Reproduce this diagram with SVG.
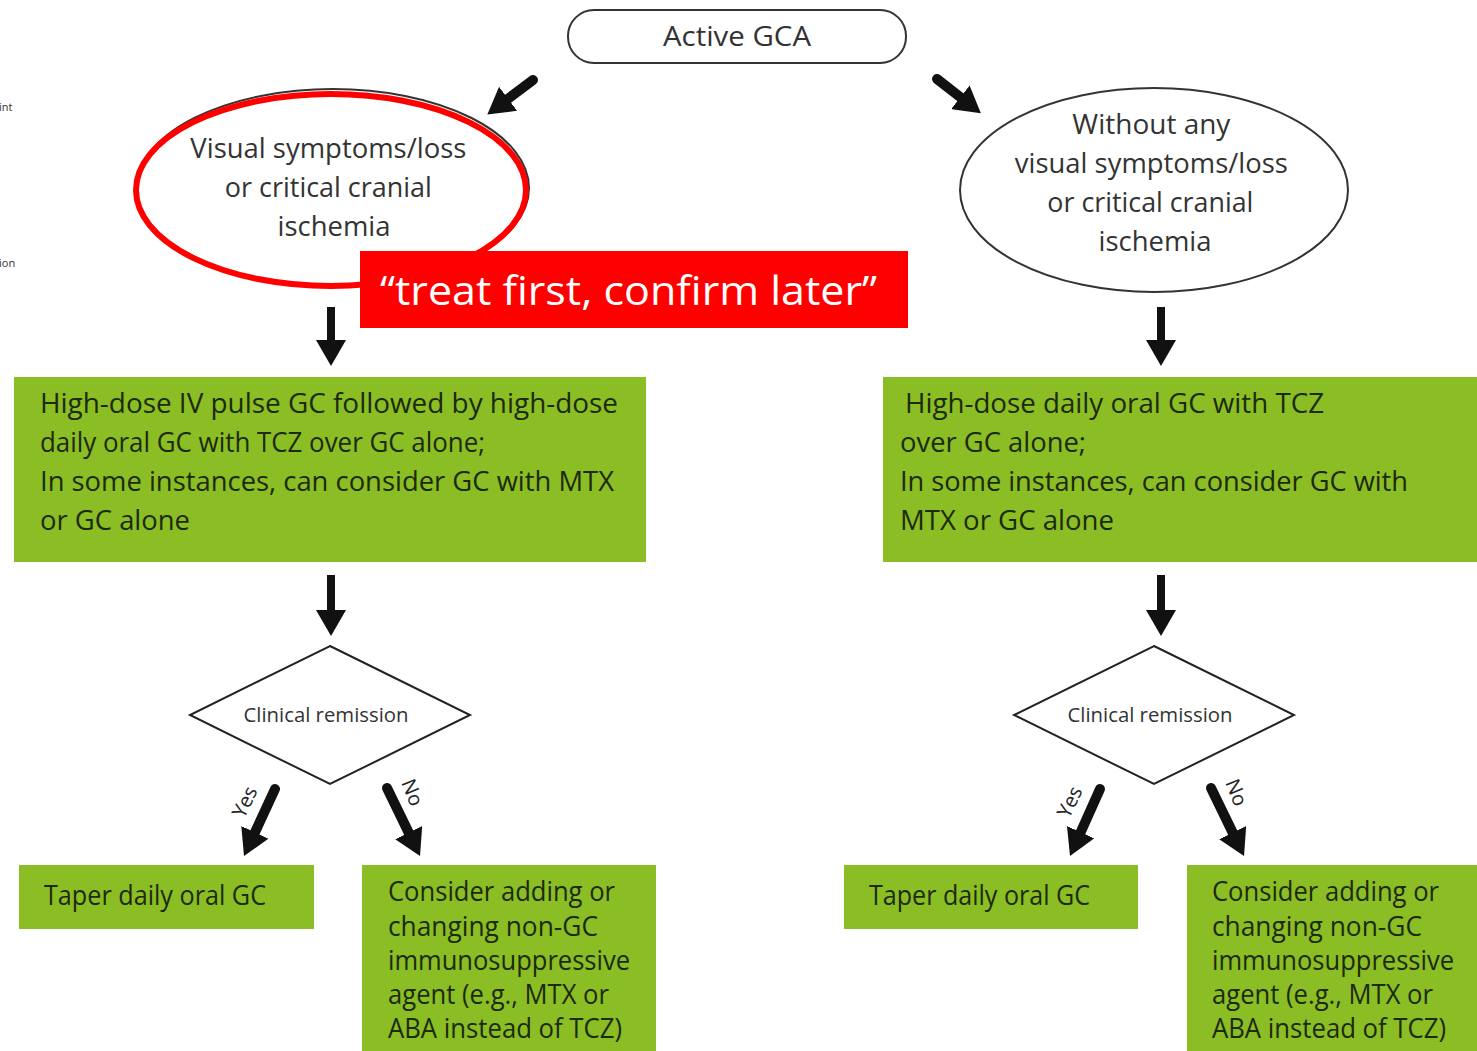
<svg xmlns="http://www.w3.org/2000/svg" width="1477" height="1051" viewBox="0 0 1477 1051">
<defs>
<style>
.t{font-family:"Open Sans","Liberation Sans",sans-serif;fill:#333;}
.g{font-family:"Open Sans","Liberation Sans",sans-serif;fill:#1c2a0e;font-size:27px;}
.box{fill:#8bbd24;}
.arr{stroke:#111;stroke-width:8;fill:none;marker-end:url(#ah);}
.arrd{stroke:#111;stroke-width:10;fill:none;marker-end:url(#ah);stroke-linecap:round;}
.lbl{font-family:"Open Sans","Liberation Sans",sans-serif;fill:#222;font-size:20px;}
</style>
<marker id="ah" markerUnits="userSpaceOnUse" markerWidth="26" markerHeight="30" viewBox="0 0 26 30" refX="6" refY="15" orient="auto">
<path d="M0,0 L26,15 L0,30 z" fill="#111"/>
</marker>
</defs>
<rect width="1477" height="1051" fill="#fff"/>
<text class="t" x="-1" y="111" font-size="11" fill="#666">int</text>
<text class="t" x="-1" y="267" font-size="11" fill="#666">ion</text>

<g id="connectors">
<line class="arrd" x1="533" y1="80" x2="503.3" y2="102.4"/>
<line class="arrd" x1="937" y1="79" x2="965.1" y2="100.9"/>
<line class="arr" x1="331" y1="307" x2="331" y2="346"/>
<line class="arr" x1="1161" y1="307" x2="1161" y2="346"/>
<line class="arr" x1="331" y1="575" x2="331" y2="616"/>
<line class="arr" x1="1161" y1="575" x2="1161" y2="616"/>
<line class="arrd" x1="275" y1="789" x2="252.4" y2="837.8"/>
<line class="arrd" x1="387" y1="788" x2="411.3" y2="838"/>
<line class="arrd" x1="1100" y1="789" x2="1078.2" y2="837.7"/>
<line class="arrd" x1="1211" y1="788" x2="1235.3" y2="838"/>
<text class="lbl" transform="translate(251,805) rotate(-64)" text-anchor="middle">Yes</text>
<text class="lbl" transform="translate(406,795) rotate(68)" text-anchor="middle">No</text>
<text class="lbl" transform="translate(1076,805) rotate(-64)" text-anchor="middle">Yes</text>
<text class="lbl" transform="translate(1230,795) rotate(68)" text-anchor="middle">No</text>
</g>

<g id="active-gca">
<rect x="568" y="10" width="338" height="53" rx="26" fill="#fff" stroke="#333" stroke-width="2"/>
<text class="t" x="737" y="46" font-size="28" text-anchor="middle" textLength="148" lengthAdjust="spacingAndGlyphs">Active GCA</text>
</g>

<g id="visual-symptoms">
<ellipse cx="333" cy="188" rx="196" ry="99" fill="#fff" stroke="#333" stroke-width="2"/>
<ellipse cx="331" cy="190" rx="195" ry="96" fill="none" stroke="#f00" stroke-width="6"/>
<text class="t" font-size="28" text-anchor="middle">
<tspan x="332" y="158" textLength="276" lengthAdjust="spacingAndGlyphs">Visual symptoms/loss</tspan>
<tspan x="332" y="197" textLength="207" lengthAdjust="spacingAndGlyphs">or critical cranial</tspan>
<tspan x="334" y="236" textLength="113" lengthAdjust="spacingAndGlyphs">ischemia</tspan>
</text>
</g>

<g id="treat-first">
<rect x="360" y="251" width="548" height="77" fill="#f00"/>
<text x="380" y="305" font-family="'Open Sans','Liberation Sans',sans-serif" font-size="40" fill="#fff" textLength="497" lengthAdjust="spacingAndGlyphs">“treat first, confirm later”</text>
</g>

<g id="without-visual">
<ellipse cx="1154" cy="190" rx="194" ry="102" fill="#fff" stroke="#333" stroke-width="2"/>
<text class="t" font-size="28" text-anchor="middle">
<tspan x="1155" y="134" textLength="158" lengthAdjust="spacingAndGlyphs">Without any</tspan>
<tspan x="1155" y="173" textLength="273" lengthAdjust="spacingAndGlyphs">visual symptoms/loss</tspan>
<tspan x="1154" y="212" textLength="206" lengthAdjust="spacingAndGlyphs">or critical cranial</tspan>
<tspan x="1155" y="251" textLength="113" lengthAdjust="spacingAndGlyphs">ischemia</tspan>
</text>
</g>

<g id="left-treatment">
<rect class="box" x="14" y="377" width="632" height="185"/>
<text class="g">
<tspan x="40" y="413" textLength="578" lengthAdjust="spacingAndGlyphs">High-dose IV pulse GC followed by high-dose</tspan>
<tspan x="40" y="452" textLength="445" lengthAdjust="spacingAndGlyphs">daily oral GC with TCZ over GC alone;</tspan>
<tspan x="40" y="491" textLength="574" lengthAdjust="spacingAndGlyphs">In some instances, can consider GC with MTX</tspan>
<tspan x="40" y="530" textLength="150" lengthAdjust="spacingAndGlyphs">or GC alone</tspan>
</text>
</g>

<g id="right-treatment">
<rect class="box" x="883" y="377" width="594" height="185"/>
<text class="g">
<tspan x="905" y="413" textLength="419" lengthAdjust="spacingAndGlyphs">High-dose daily oral GC with TCZ</tspan>
<tspan x="900" y="452" textLength="186" lengthAdjust="spacingAndGlyphs">over GC alone;</tspan>
<tspan x="900" y="491" textLength="508" lengthAdjust="spacingAndGlyphs">In some instances, can consider GC with</tspan>
<tspan x="900" y="530" textLength="214" lengthAdjust="spacingAndGlyphs">MTX or GC alone</tspan>
</text>
</g>

<g id="left-remission">
<polygon points="330,646 470,715 330,784 190,715" fill="#fff" stroke="#222" stroke-width="2"/>
<text class="t" x="326" y="722" font-size="20" text-anchor="middle" textLength="165" lengthAdjust="spacingAndGlyphs">Clinical remission</text>
</g>

<g id="right-remission">
<polygon points="1154,646 1294,715 1154,784 1014,715" fill="#fff" stroke="#222" stroke-width="2"/>
<text class="t" x="1150" y="722" font-size="20" text-anchor="middle" textLength="165" lengthAdjust="spacingAndGlyphs">Clinical remission</text>
</g>

<g id="left-taper">
<rect class="box" x="19" y="865" width="295" height="64"/>
<text class="g" x="44" y="905" textLength="222" lengthAdjust="spacingAndGlyphs">Taper daily oral GC</text>
</g>

<g id="left-consider">
<rect class="box" x="362" y="865" width="294" height="186"/>
<text class="g">
<tspan x="388" y="901" textLength="227" lengthAdjust="spacingAndGlyphs">Consider adding or</tspan>
<tspan x="388" y="936" textLength="210" lengthAdjust="spacingAndGlyphs">changing non-GC</tspan>
<tspan x="388" y="970" textLength="242" lengthAdjust="spacingAndGlyphs">immunosuppressive</tspan>
<tspan x="388" y="1004" textLength="221" lengthAdjust="spacingAndGlyphs">agent (e.g., MTX or</tspan>
<tspan x="388" y="1038" textLength="234" lengthAdjust="spacingAndGlyphs">ABA instead of TCZ)</tspan>
</text>
</g>

<g id="right-taper">
<rect class="box" x="844" y="865" width="294" height="64"/>
<text class="g" x="869" y="905" textLength="221" lengthAdjust="spacingAndGlyphs">Taper daily oral GC</text>
</g>

<g id="right-consider">
<rect class="box" x="1187" y="865" width="290" height="186"/>
<text class="g">
<tspan x="1212" y="901" textLength="227" lengthAdjust="spacingAndGlyphs">Consider adding or</tspan>
<tspan x="1212" y="936" textLength="210" lengthAdjust="spacingAndGlyphs">changing non-GC</tspan>
<tspan x="1212" y="970" textLength="242" lengthAdjust="spacingAndGlyphs">immunosuppressive</tspan>
<tspan x="1212" y="1004" textLength="221" lengthAdjust="spacingAndGlyphs">agent (e.g., MTX or</tspan>
<tspan x="1212" y="1038" textLength="234" lengthAdjust="spacingAndGlyphs">ABA instead of TCZ)</tspan>
</text>
</g>
</svg>
